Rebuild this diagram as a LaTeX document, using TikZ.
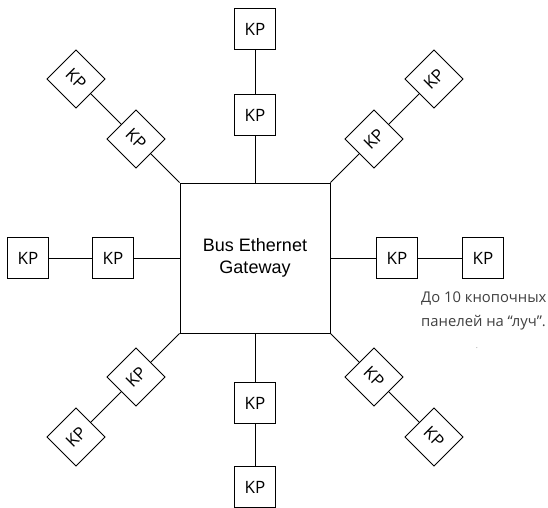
\documentclass[tikz,border=0pt]{standalone}
\usepackage{fontspec}
\setmainfont{Liberation Sans}
\newfontfamily\kpfont{Open Sans}
\begin{document}
\begin{tikzpicture}[x=1pt,y=-1pt,
  kp/.style={draw, line width=0.9pt, minimum width=41pt, minimum height=41pt, inner sep=0pt, font=\kpfont\fontsize{17}{19}\selectfont},
  link/.style={line width=0.9pt}]
\useasboundingbox (0,0) rectangle (548,507);
\node[draw, line width=0.9pt, minimum width=150pt, minimum height=150pt, align=center,
  font=\fontsize{18}{21.5}\selectfont] (gw) at (255,258) {Bus Ethernet\\Gateway};
% vertical
\node[kp] (t1) at (255,115) {KP};
\node[kp] (t2) at (255,29) {KP};
\node[kp] (b1) at (255,403) {KP};
\node[kp] (b2) at (255,487) {KP};
% horizontal
\node[kp] (l1) at (113,258) {KP};
\node[kp] (l2) at (28,258) {KP};
\node[kp] (r1) at (397,258) {KP};
\node[kp] (r2) at (483,258) {KP};
% diagonals
\node[kp, rotate=-45] (tl1) at (136,139) {KP};
\node[kp, rotate=-45] (tl2) at (76,79) {KP};
\node[kp, rotate=45] (tr1) at (374,139) {KP};
\node[kp, rotate=45] (tr2) at (434,79) {KP};
\node[kp, rotate=45] (bl1) at (136,377) {KP};
\node[kp, rotate=45] (bl2) at (76,437) {KP};
\node[kp, rotate=-45] (br1) at (374,377) {KP};
\node[kp, rotate=-45] (br2) at (434,437) {KP};
% links
\draw[link] (gw.north) -- (t1) (t1) -- (t2);
\draw[link] (gw.south) -- (b1) (b1) -- (b2);
\coordinate (bend) at (255,507);
\draw[link] (b2) -- (bend);
\draw[link] (gw.west) -- (l1) (l1) -- (l2);
\draw[link] (gw.east) -- (r1) (r1) -- (r2);
\draw[link] (gw.north west) -- (tl1) (tl1) -- (tl2);
\draw[link] (gw.north east) -- (tr1) (tr1) -- (tr2);
\draw[link] (gw.south west) -- (bl1) (bl1) -- (bl2);
\draw[link] (gw.south east) -- (br1) (br1) -- (br2);
% note
\node[anchor=north west, align=left, inner sep=0pt, text=black!75,
  font=\kpfont\fontsize{14.8}{24}\selectfont] (note) at (421,292) {До 10 кнопочных\\панелей на “луч”.};
\node[inner sep=0pt, text=black!40, font=\kpfont\fontsize{8}{8}\selectfont] (dot) at (477,348) {.};
\end{tikzpicture}
\end{document}
